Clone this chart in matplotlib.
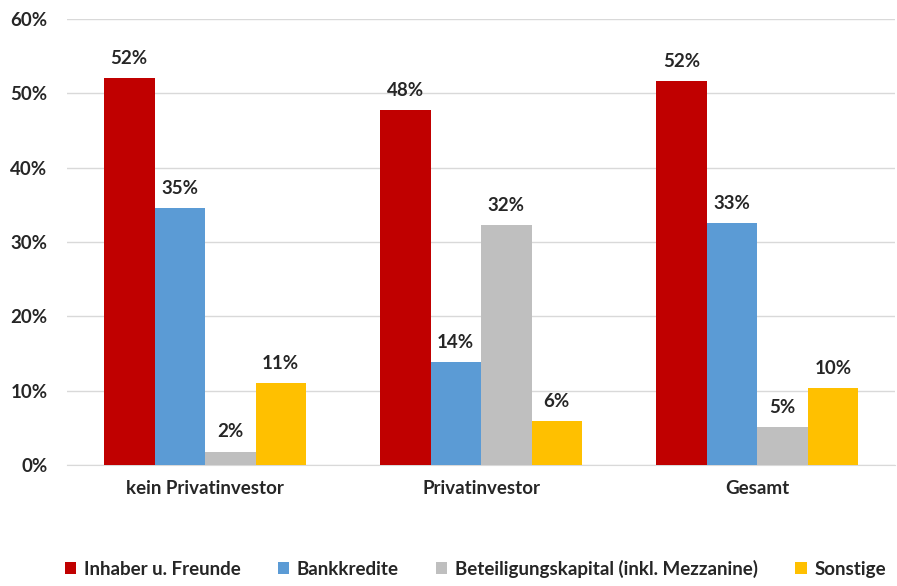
import numpy as np
import matplotlib
matplotlib.use("Agg")
import matplotlib.pyplot as plt

plt.rcParams['font.family'] = ['Lato', 'DejaVu Sans']

groups = ["kein Privatinvestor", "Privatinvestor", "Gesamt"]
series = ["Inhaber u. Freunde", "Bankkredite",
          "Beteiligungskapital (inkl. Mezzanine)", "Sonstige"]
inhaber = [52.0, 47.8, 51.7]
bank = [34.6, 13.9, 32.6]
beteiligung = [1.8, 32.3, 5.1]
sonstige = [11.0, 5.9, 10.4]
colors = ["#C00000", "#5B9BD5", "#BFBFBF", "#FFC000"]

values = [inhaber, bank, beteiligung, sonstige]

fig = plt.figure(figsize=(8.97, 5.86), dpi=100)
ax = fig.add_axes([0.0747, 0.2065, 0.9231, 0.7611])

x = np.arange(len(groups))
w = 0.183
for i, (name, vals, c) in enumerate(zip(series, values, colors)):
    pos = x + (i - 1.5) * w
    bars = ax.bar(pos, vals, w, color=c, label=name, zorder=3)
    for b, v in zip(bars, vals):
        ax.annotate(f"{v:.0f}%", (b.get_x() + b.get_width() / 2, v),
                    xytext=(0, 8), textcoords="offset points",
                    ha="center", va="bottom", fontsize=13.5, fontweight="bold",
                    color="#262626")

ax.set_xlim(-0.5, 2.5)
ax.set_ylim(0, 60)
ax.set_yticks(range(0, 61, 10))
ax.set_yticklabels([f"{t}%" for t in range(0, 61, 10)])
ax.set_xticks(x)
ax.set_xticklabels(groups)
ax.tick_params(axis="both", length=0, labelsize=13.5, colors="#262626")
ax.tick_params(axis="x", pad=11)
ax.tick_params(axis="y", pad=14)
for lab in ax.get_xticklabels() + ax.get_yticklabels():
    lab.set_fontweight("bold")
ax.grid(axis="y", color="#D9D9D9", linewidth=1, zorder=0)
for s in ["top", "right", "left"]:
    ax.spines[s].set_visible(False)
ax.spines["bottom"].set_color("#D9D9D9")

leg = fig.legend(loc="lower center", ncol=4, bbox_to_anchor=(0.53, -0.015),
                 frameon=False, handlelength=0.6, handleheight=0.6,
                 handletextpad=0.4, columnspacing=2.0,
                 prop={"size": 13.5, "weight": "bold"})
for t in leg.get_texts():
    t.set_color("#262626")

fig.savefig("out.png", dpi=100)
